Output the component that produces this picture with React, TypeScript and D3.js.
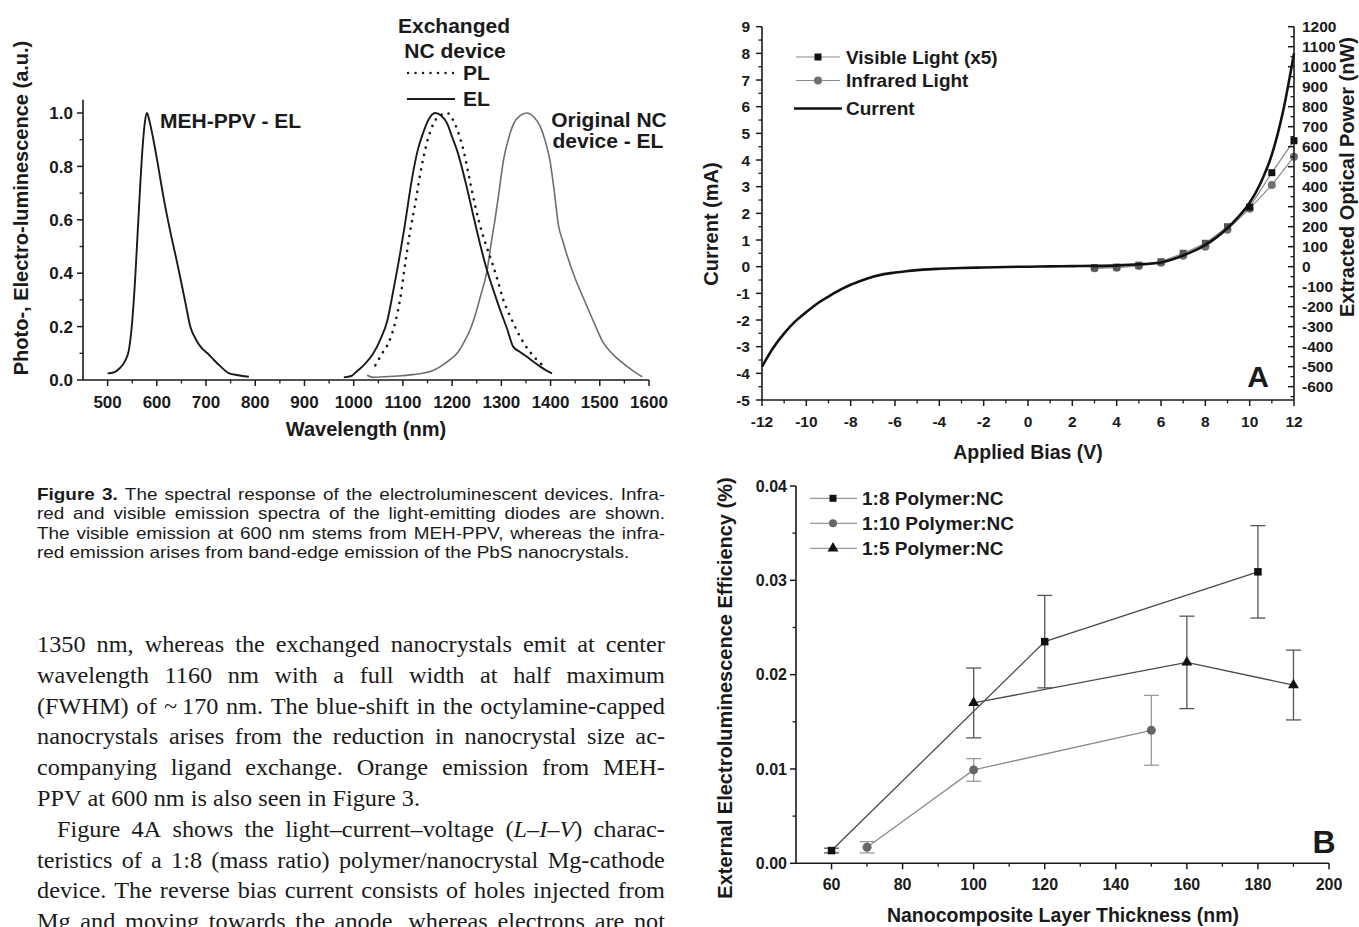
import * as d3 from "d3";

const W = 1359;
const H = 927;
const SANS = "'Liberation Sans', Arial, Helvetica, sans-serif";
const SERIF = "'Liberation Serif', 'Times New Roman', serif";
const CAPTION_FONT = "'Liberation Sans', Arial, sans-serif";
const INK = "#1a1a1a";

// ---- Figure 3: spectra, [wavelength (nm), normalised intensity] ----
const mehPpvEL: [number, number][] = [
  [500, 0.025], [512, 0.028], [525, 0.045], [535, 0.07], [543, 0.11], [550, 0.22],
  [556, 0.38], [561, 0.55], [566, 0.72], [571, 0.87], [576, 0.97], [580, 1.0],
  [585, 0.97], [592, 0.91], [600, 0.83], [614, 0.68], [628, 0.55], [640, 0.45],
  [648, 0.38], [658, 0.29], [668, 0.2], [680, 0.15], [690, 0.122], [703, 0.1],
  [716, 0.075], [730, 0.05], [746, 0.026], [765, 0.018], [787, 0.012],
];
const exchangedEL: [number, number][] = [
  [980, 0.01], [995, 0.015], [1005, 0.03], [1020, 0.055], [1040, 0.1], [1055, 0.155],
  [1068, 0.22], [1081, 0.34], [1093, 0.46], [1103, 0.57], [1119, 0.76], [1130, 0.86],
  [1140, 0.92], [1152, 0.975], [1165, 1.0], [1178, 0.99], [1190, 0.96], [1200, 0.91],
  [1210, 0.86], [1230, 0.72], [1245, 0.6], [1258, 0.5], [1271, 0.41], [1285, 0.33],
  [1298, 0.26], [1312, 0.19], [1324, 0.125], [1338, 0.105], [1352, 0.087],
  [1366, 0.067], [1379, 0.05], [1392, 0.035], [1403, 0.025],
];
const exchangedPL: [number, number][] = [
  [1044, 0.055], [1058, 0.1], [1071, 0.14], [1085, 0.22], [1095, 0.31], [1105, 0.44],
  [1115, 0.56], [1125, 0.66], [1135, 0.77], [1149, 0.89], [1162, 0.96], [1175, 0.99],
  [1190, 1.0], [1200, 0.98], [1210, 0.94], [1223, 0.86], [1240, 0.71], [1255, 0.59],
  [1268, 0.51], [1281, 0.44], [1293, 0.37], [1304, 0.3], [1315, 0.25], [1325, 0.21],
  [1345, 0.14], [1366, 0.088], [1383, 0.056],
];
const originalEL: [number, number][] = [
  [1027, 0.018], [1040, 0.01], [1060, 0.012], [1090, 0.015], [1120, 0.02], [1142, 0.026],
  [1160, 0.035], [1176, 0.05], [1195, 0.075], [1210, 0.1], [1225, 0.145], [1237, 0.19],
  [1248, 0.25], [1257, 0.31], [1271, 0.41], [1280, 0.52], [1287, 0.6], [1295, 0.7],
  [1304, 0.82], [1314, 0.9], [1325, 0.96], [1338, 0.99], [1352, 1.0], [1366, 0.985],
  [1379, 0.95], [1390, 0.89], [1399, 0.82], [1408, 0.7], [1416, 0.58], [1425, 0.52],
  [1433, 0.47], [1450, 0.38], [1466, 0.31], [1487, 0.22], [1507, 0.14], [1527, 0.095],
  [1547, 0.063], [1567, 0.035], [1586, 0.012],
];
const fig3XTicks = [500, 600, 700, 800, 900, 1000, 1100, 1200, 1300, 1400, 1500, 1600];
const fig3YTicks = [0, 0.2, 0.4, 0.6, 0.8, 1.0];

// ---- Figure 4A: L-I-V ----
const biasV = [
  -12, -11.5, -11, -10.5, -10, -9.5, -9, -8.5, -8, -7.5, -7, -6.5, -6, -5.5, -5, -4.5,
  -4, -3, -2, -1, 0, 1, 2, 3, 4, 5, 6, 6.5, 7, 7.5, 8, 8.5, 9, 9.5, 10, 10.5, 11, 11.5, 12,
];
const currentMA = [
  -3.75, -3.05, -2.5, -2.05, -1.7, -1.38, -1.12, -0.88, -0.68, -0.52, -0.38, -0.28,
  -0.22, -0.17, -0.13, -0.1, -0.08, -0.05, -0.03, -0.01, 0, 0.01, 0.02, 0.03, 0.05,
  0.09, 0.16, 0.27, 0.42, 0.6, 0.82, 1.1, 1.45, 1.88, 2.4, 3.15, 4.2, 5.8, 8.0,
];
const lightV = [3, 4, 5, 6, 7, 8, 9, 10, 11, 12];
const visibleNW = [-5, -2, 8, 25, 67, 117, 200, 298, 470, 630];
const infraredNW = [-8, -5, 4, 20, 55, 100, 185, 290, 408, 550];
const aXTicks = [-12, -10, -8, -6, -4, -2, 0, 2, 4, 6, 8, 10, 12];
const aYTicks = [-5, -4, -3, -2, -1, 0, 1, 2, 3, 4, 5, 6, 7, 8, 9];
const aY2Ticks = [-600, -500, -400, -300, -200, -100, 0, 100, 200, 300, 400, 500, 600, 700, 800, 900, 1000, 1100, 1200];

// ---- Figure 4B: EL efficiency vs thickness, value and +/- error ----
const r18Thick = [60, 120, 180];
const r18Eff = [0.00135, 0.0235, 0.0309];
const r18Err = [0.00025, 0.0049, 0.0049];
const r110Thick = [70, 100, 150];
const r110Eff = [0.0017, 0.0099, 0.0141];
const r110Err = [0.0006, 0.0012, 0.0037];
const r15Thick = [100, 160, 190];
const r15Eff = [0.017, 0.0213, 0.0189];
const r15Err = [0.0037, 0.0049, 0.0037];
const bXTicks = [60, 80, 100, 120, 140, 160, 180, 200];
const bYTicks = [0, 0.01, 0.02, 0.03, 0.04];

// ---- text ----
const captionLines = [
  { text: "*Figure* *3.* The spectral response of the electroluminescent devices. Infra-", justify: true },
  { text: "red and visible emission spectra of the light-emitting diodes are shown.", justify: true },
  { text: "The visible emission at 600 nm stems from MEH-PPV, whereas the infra-", justify: true },
  { text: "red emission arises from band-edge emission of the PbS nanocrystals.", justify: false },
];
const bodyLines = [
  { text: "1350 nm, whereas the exchanged nanocrystals emit at center", justify: true },
  { text: "wavelength 1160 nm with a full width at half maximum", justify: true },
  { text: "(FWHM) of ~\u2009170 nm. The blue-shift in the octylamine-capped", justify: true },
  { text: "nanocrystals arises from the reduction in nanocrystal size ac-", justify: true },
  { text: "companying ligand exchange. Orange emission from MEH-", justify: true },
  { text: "PPV at 600 nm is also seen in Figure 3.", justify: false },
  { text: "Figure 4A shows the light\u2013current\u2013voltage (_L_\u2013_I_\u2013_V_) charac-", justify: true, indent: 20 },
  { text: "teristics of a 1:8 (mass ratio) polymer/nanocrystal Mg-cathode", justify: true },
  { text: "device. The reverse bias current consists of holes injected from", justify: true },
  { text: "Mg and moving towards the anode, whereas electrons are not", justify: true },
];

type Piece = { t: string; b?: boolean; i?: boolean };

let measureCtx: CanvasRenderingContext2D | null = null;
function measure(s: string, font: string) {
  if (!measureCtx) measureCtx = document.createElement("canvas").getContext("2d");
  measureCtx!.font = font;
  return measureCtx!.measureText(s).width;
}

function parseWord(w: string): Piece[] {
  return w
    .split(/(\*[^*]+\*|_[^_]+_)/)
    .filter((s) => s.length)
    .map((s) => {
      if (s[0] === "*") return { t: s.slice(1, -1), b: true };
      if (s[0] === "_") return { t: s.slice(1, -1), i: true };
      return { t: s };
    });
}

// justified block: words spread to the column width, glyphs scaled by one common factor
function TextBlock({ lines, left, right, top, lineHeight, size, family, refLine, refRatio }: any) {
  const font = (p: Piece) => `${p.i ? "italic " : ""}${p.b ? "bold " : ""}${size}px ${family}`;
  const parsed = lines.map((l: any) => ({ ...l, words: l.text.split(" ").map(parseWord) }));
  const wordW = (w: Piece[]) => d3.sum(w, (p) => measure(p.t, font(p)));
  const space = measure(" ", font({ t: " " }));
  const ref = parsed[refLine];
  const natural = d3.sum(ref.words, wordW) + space * (ref.words.length - 1);
  const sx = (refRatio * (right - left - (ref.indent || 0))) / natural;

  return (
    <g fontFamily={family} fontSize={size} fill={INK}>
      {parsed.map((l: any, li: number) => {
        const x0 = left + (l.indent || 0);
        const avail = (right - x0) / sx;
        const widths = l.words.map(wordW);
        const gap = l.justify ? (avail - d3.sum(widths)) / (l.words.length - 1) : space;
        let cur = 0;
        const pos = widths.map((w: number) => {
          const p = cur;
          cur += w + gap;
          return p;
        });
        return (
          <text key={li} transform={`translate(${x0},${top + li * lineHeight}) scale(${sx},1)`}>
            {l.words.map((w: Piece[], k: number) => (
              <tspan key={k} x={pos[k]} y={0}>
                {w.map((p, j) => (
                  <tspan key={j} fontWeight={p.b ? "bold" : undefined} fontStyle={p.i ? "italic" : undefined}>
                    {p.t}
                  </tspan>
                ))}
              </tspan>
            ))}
          </text>
        );
      })}
    </g>
  );
}

function HAxis({ scale, y, ticks, minor, fmt, len = 6, minorLen = 3.5, fontSize, labelY }: any) {
  const [a, b] = scale.range();
  return (
    <g>
      <line x1={a} x2={b} y1={y} y2={y} stroke={INK} strokeWidth={1.6} />
      {minor.map((v: number) => (
        <line key={`m${v}`} x1={scale(v)} x2={scale(v)} y1={y} y2={y + minorLen} stroke={INK} strokeWidth={1.3} />
      ))}
      {ticks.map((v: number) => (
        <line key={`t${v}`} x1={scale(v)} x2={scale(v)} y1={y} y2={y + len} stroke={INK} strokeWidth={1.5} />
      ))}
      {ticks.map((v: number) => (
        <text key={`l${v}`} x={scale(v)} y={labelY} textAnchor="middle" fontSize={fontSize}>
          {fmt(v)}
        </text>
      ))}
    </g>
  );
}

function VAxis({ scale, x, ticks, minor, fmt, len = 6, minorLen = 3.5, fontSize, labelX, anchor = "end", dir = -1 }: any) {
  const [a, b] = scale.range();
  return (
    <g>
      <line x1={x} x2={x} y1={a} y2={b} stroke={INK} strokeWidth={1.6} />
      {minor.map((v: number) => (
        <line key={`m${v}`} x1={x} x2={x + dir * minorLen} y1={scale(v)} y2={scale(v)} stroke={INK} strokeWidth={1.3} />
      ))}
      {ticks.map((v: number) => (
        <line key={`t${v}`} x1={x} x2={x + dir * len} y1={scale(v)} y2={scale(v)} stroke={INK} strokeWidth={1.5} />
      ))}
      {ticks.map((v: number) => (
        <text key={`l${v}`} x={labelX} y={scale(v) + fontSize * 0.36} textAnchor={anchor} fontSize={fontSize}>
          {fmt(v)}
        </text>
      ))}
    </g>
  );
}

function Figure3() {
  const x = d3.scaleLinear().domain([450, 1600]).range([83, 649]);
  const y = d3.scaleLinear().domain([0, 1.05]).range([380, 99.65]);
  const line = d3
    .line<[number, number]>()
    .x((d) => x(d[0]))
    .y((d) => y(d[1]))
    .curve(d3.curveMonotoneX);
  const f1 = d3.format(".1f");
  return (
    <g fontFamily={SANS} fontWeight="bold" fill={INK}>
      <path d={line(originalEL)!} fill="none" stroke="#6e6e6e" strokeWidth={1.6} />
      <path d={line(mehPpvEL)!} fill="none" stroke={INK} strokeWidth={1.9} />
      <path d={line(exchangedEL)!} fill="none" stroke={INK} strokeWidth={1.9} />
      <path d={line(exchangedPL)!} fill="none" stroke={INK} strokeWidth={2.6} strokeDasharray="0.1 7.4" strokeLinecap="round" />

      <HAxis scale={x} y={380} ticks={fig3XTicks} minor={d3.range(550, 1600, 100)} fmt={String} fontSize={17} labelY={408} />
      <VAxis scale={y} x={83} ticks={fig3YTicks} minor={[0.1, 0.3, 0.5, 0.7, 0.9]} fmt={f1} fontSize={17} labelX={73} />

      <text transform="translate(28,208) rotate(-90)" textAnchor="middle" fontSize={20}>
        Photo-, Electro-luminescence (a.u.)
      </text>
      <text x={366} y={436} textAnchor="middle" fontSize={20}>
        Wavelength (nm)
      </text>

      <text x={160} y={128} fontSize={21}>MEH-PPV - EL</text>
      <text x={454} y={33} textAnchor="middle" fontSize={21}>Exchanged</text>
      <text x={455} y={58} textAnchor="middle" fontSize={21}>NC device</text>
      <line x1={408} x2={455} y1={73} y2={73} stroke={INK} strokeWidth={2.4} strokeDasharray="0.1 7.4" strokeLinecap="round" />
      <text x={463} y={80} fontSize={21}>PL</text>
      <line x1={407} x2={455} y1={99} y2={99} stroke={INK} strokeWidth={1.9} />
      <text x={463} y={106} fontSize={21}>EL</text>
      <text x={609} y={127} textAnchor="middle" fontSize={21}>Original NC</text>
      <text x={608} y={148} textAnchor="middle" fontSize={21}>device - EL</text>
    </g>
  );
}

function PanelA() {
  const x = d3.scaleLinear().domain([-12, 12]).range([762, 1294]);
  const y = d3.scaleLinear().domain([-5, 9]).range([400, 26.7]);
  const y2 = d3.scaleLinear().domain([-666.67, 1200]).range([400, 26.7]);
  const current = d3
    .line<number>()
    .x((v) => x(v))
    .y((_, i) => y(currentMA[i]))
    .curve(d3.curveMonotoneX);
  const light = (vals: number[]) =>
    d3
      .line<number>()
      .x((v) => x(v))
      .y((_, i) => y2(vals[i]))(lightV)!;
  const legendY = [57, 80.5, 108.5];
  return (
    <g fontFamily={SANS} fontWeight="bold" fill={INK}>
      <path d={light(visibleNW)} fill="none" stroke="#8a8a8a" strokeWidth={1.2} />
      <path d={light(infraredNW)} fill="none" stroke="#8a8a8a" strokeWidth={1.2} />
      {lightV.map((v, i) => (
        <circle key={`c${v}`} cx={x(v)} cy={y2(infraredNW[i])} r={4} fill="#707070" />
      ))}
      {lightV.map((v, i) => (
        <rect key={`s${v}`} x={x(v) - 3.5} y={y2(visibleNW[i]) - 3.5} width={7} height={7} fill={i < 7 ? "#555" : "#111"} />
      ))}
      <path d={current(biasV)!} fill="none" stroke="#111" strokeWidth={2.6} />

      <HAxis scale={x} y={400} ticks={aXTicks} minor={d3.range(-11, 12, 2)} fmt={String} fontSize={15.5} labelY={427} />
      <VAxis scale={y} x={762} ticks={aYTicks} minor={d3.range(-4.5, 9, 1)} fmt={String} fontSize={15.5} labelX={750} />
      <VAxis scale={y2} x={1294} ticks={aY2Ticks} minor={d3.range(-650, 1200, 100)} fmt={String} fontSize={15.5} labelX={1302} anchor="start" dir={-1} />

      <text transform="translate(718,224) rotate(-90)" textAnchor="middle" fontSize={20}>
        Current (mA)
      </text>
      <text transform="translate(1354,177) rotate(-90)" textAnchor="middle" fontSize={20}>
        Extracted Optical Power (nW)
      </text>
      <text x={1028} y={459} textAnchor="middle" fontSize={19.5}>
        Applied Bias (V)
      </text>
      <text x={1258} y={387} textAnchor="middle" fontSize={30}>A</text>

      <line x1={796} x2={840} y1={legendY[0]} y2={legendY[0]} stroke="#8a8a8a" strokeWidth={1.2} />
      <rect x={814.5} y={legendY[0] - 3.5} width={7} height={7} fill="#111" />
      <text x={846} y={legendY[0] + 6.8} fontSize={19}>Visible Light (x5)</text>
      <line x1={796} x2={840} y1={legendY[1]} y2={legendY[1]} stroke="#8a8a8a" strokeWidth={1.2} />
      <circle cx={818} cy={legendY[1]} r={4} fill="#707070" />
      <text x={846} y={legendY[1] + 6.8} fontSize={19}>Infrared Light</text>
      <line x1={794} x2={842} y1={legendY[2]} y2={legendY[2]} stroke="#111" strokeWidth={2.6} />
      <text x={846} y={legendY[2] + 6.8} fontSize={19}>Current</text>
    </g>
  );
}

function Square({ cx, cy, s = 7.5, fill = "#111" }: any) {
  return <rect x={cx - s / 2} y={cy - s / 2} width={s} height={s} fill={fill} />;
}
function Triangle({ cx, cy, fill = "#111" }: any) {
  return <path d={d3.symbol().type(d3.symbolTriangle).size(52)()!} transform={`translate(${cx},${cy})`} fill={fill} />;
}

function PanelB() {
  const x = d3.scaleLinear().domain([50, 200]).range([796, 1329]);
  const y = d3.scaleLinear().domain([0, 0.04]).range([863.3, 486]);
  const path = (xs: number[], ys: number[]) =>
    d3
      .line<number>()
      .x((v) => x(v))
      .y((_, i) => y(ys[i]))(xs)!;
  const bars = (xs: number[], ys: number[], es: number[], color: string) =>
    xs.map((v, i) => (
      <g key={`e${v}`} stroke={color} strokeWidth={1.3}>
        <line x1={x(v)} x2={x(v)} y1={y(ys[i] - es[i])} y2={y(ys[i] + es[i])} />
        <line x1={x(v) - 7.5} x2={x(v) + 7.5} y1={y(ys[i] - es[i])} y2={y(ys[i] - es[i])} />
        <line x1={x(v) - 7.5} x2={x(v) + 7.5} y1={y(ys[i] + es[i])} y2={y(ys[i] + es[i])} />
      </g>
    ));
  const f2 = d3.format(".2f");
  const legendY = [498.3, 523.3, 548.3];
  return (
    <g fontFamily={SANS} fontWeight="bold" fill={INK}>
      {bars(r110Thick, r110Eff, r110Err, "#9a9a9a")}
      {bars(r18Thick, r18Eff, r18Err, "#555")}
      {bars(r15Thick, r15Eff, r15Err, "#555")}
      <path d={path(r110Thick, r110Eff)} fill="none" stroke="#8c8c8c" strokeWidth={1.3} />
      <path d={path(r18Thick, r18Eff)} fill="none" stroke="#4a4a4a" strokeWidth={1.3} />
      <path d={path(r15Thick, r15Eff)} fill="none" stroke="#4a4a4a" strokeWidth={1.3} />
      {r110Thick.map((v, i) => (
        <circle key={`c${v}`} cx={x(v)} cy={y(r110Eff[i])} r={4.5} fill="#666" />
      ))}
      {r18Thick.map((v, i) => (
        <Square key={`s${v}`} cx={x(v)} cy={y(r18Eff[i])} />
      ))}
      {r15Thick.map((v, i) => (
        <Triangle key={`t${v}`} cx={x(v)} cy={y(r15Eff[i])} />
      ))}

      <HAxis scale={x} y={863.3} ticks={bXTicks} minor={d3.range(70, 200, 20)} fmt={String} fontSize={16} labelY={890} />
      <VAxis scale={y} x={796} ticks={bYTicks} minor={[0.005, 0.015, 0.025, 0.035]} fmt={f2} fontSize={16} labelX={787} />

      <text transform="translate(732,688) rotate(-90)" textAnchor="middle" fontSize={20}>
        External Electroluminescence Efficiency (%)
      </text>
      <text x={1063} y={922} textAnchor="middle" fontSize={19.5}>
        Nanocomposite Layer Thickness (nm)
      </text>
      <text x={1324} y={853} textAnchor="middle" fontSize={32}>B</text>

      {legendY.map((ly) => (
        <line key={ly} x1={810} x2={857} y1={ly} y2={ly} stroke="#999" strokeWidth={1.2} />
      ))}
      <Square cx={833} cy={legendY[0]} s={7} />
      <circle cx={833} cy={legendY[1]} r={4} fill="#666" />
      <Triangle cx={833} cy={legendY[2]} />
      <text x={862} y={legendY[0] + 6.8} fontSize={19}>1:8 Polymer:NC</text>
      <text x={862} y={legendY[1] + 6.8} fontSize={19}>1:10 Polymer:NC</text>
      <text x={862} y={legendY[2] + 6.8} fontSize={19}>1:5 Polymer:NC</text>
    </g>
  );
}

export default function App() {
  return (
    <svg
      width={W}
      height={H}
      viewBox={`0 0 ${W} ${H}`}
      style={{ position: "absolute", left: 0, top: 0, display: "block", background: "#fff" }}
    >
      <rect width={W} height={H} fill="#fff" />
      <Figure3 />
      <TextBlock
        lines={captionLines}
        left={37}
        right={665}
        top={500}
        lineHeight={19.3}
        size={16.5}
        family={CAPTION_FONT}
        refLine={3}
        refRatio={0.943}
      />
      <TextBlock
        lines={bodyLines}
        left={37}
        right={665}
        top={652}
        lineHeight={30.8}
        size={23}
        family={SERIF}
        refLine={5}
        refRatio={0.61}
      />
      <PanelA />
      <PanelB />
    </svg>
  );
}
